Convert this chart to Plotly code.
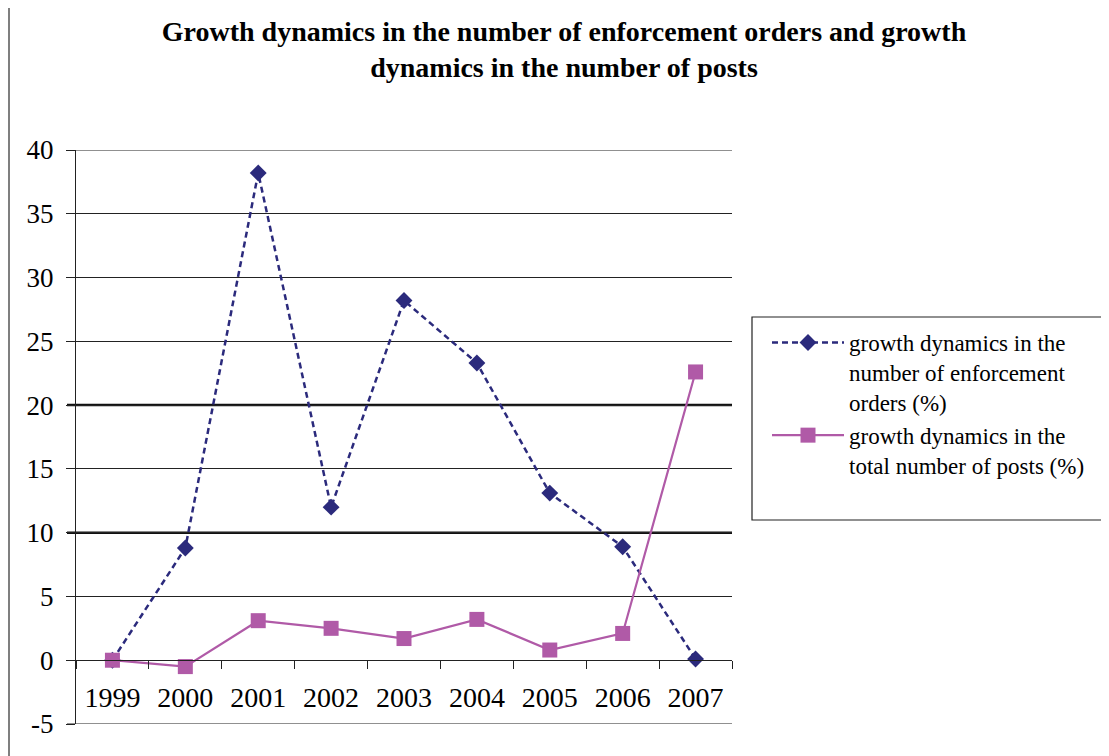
import plotly.graph_objects as go

years = ["1999", "2000", "2001", "2002", "2003", "2004", "2005", "2006", "2007"]
enforcement = [0.0, 8.8, 38.2, 12.0, 28.2, 23.3, 13.1, 8.9, 0.1]
posts = [0.0, -0.5, 3.1, 2.5, 1.7, 3.2, 0.8, 2.1, 22.6]
y_ticks = [-5, 0, 5, 10, 15, 20, 25, 30, 35, 40]
y_tick_text = ["-5", "0", "5", "10", "15", "20", "25", "30", "35", "40"]
thick_lines = [10, 20]
edge_lines = [-5, 40]

W, H = 1109, 756
OFF = 8  # page body margin
L, R, T, B = 76 - OFF, 732 - OFF, 150 - OFF, 724 - OFF
ymin, ymax = -5, 40

def px_x(sx):
    return (sx - OFF - L) / (R - L)

def px_y(sy):
    return (B - (sy - OFF)) / (B - T)

serif = "Liberation Serif, Times New Roman, serif"
navy = "#2B2A7C"
pink = "#B05AA7"

fig = go.Figure()
fig.add_trace(go.Scatter(
    x=years, y=enforcement, mode="lines+markers",
    name="growth dynamics in the<br>number of enforcement<br>orders (%)",
    line=dict(color=navy, width=2.5, dash="6px,4px"),
    marker=dict(symbol="diamond", size=13, color=navy),
))
fig.add_trace(go.Scatter(
    x=years, y=posts, mode="lines+markers",
    name="growth dynamics in the<br>total number of posts (%)",
    line=dict(color=pink, width=2.2),
    marker=dict(symbol="square", size=15, color=pink),
))

shapes = []
for v in thick_lines:
    shapes.append(dict(type="line", xref="paper", yref="y", x0=px_x(67), x1=1, y0=v, y1=v,
                       line=dict(color="#111111", width=2.5), layer="below"))
for v in edge_lines:
    shapes.append(dict(type="line", xref="paper", yref="y", x0=px_x(67), x1=1, y0=v, y1=v,
                       line=dict(color="#222222", width=1.2), layer="below"))
# legend box
shapes.append(dict(type="rect", xref="paper", yref="paper",
                   x0=px_x(752), x1=px_x(1112), y0=px_y(520), y1=px_y(317),
                   line=dict(color="#222222", width=1.2), fillcolor="rgba(0,0,0,0)"))
# left border line of figure
shapes.append(dict(type="line", xref="paper", yref="paper",
                   x0=px_x(9), x1=px_x(9), y0=px_y(5), y1=px_y(770),
                   line=dict(color="#555555", width=1.5)))

fig.update_layout(
    width=W, height=H,
    margin=dict(l=L, r=W - R, t=T, b=H - B, pad=0),
    paper_bgcolor="white", plot_bgcolor="white",
    font=dict(family=serif, size=26, color="black"),
    title=dict(
        text="<b>Growth dynamics in the number of enforcement orders and growth<br>dynamics in the number of posts</b>",
        x=(564 - OFF) / W, xanchor="center", xref="container",
        y=1 - 33 / H, yanchor="top", yref="container",
        font=dict(family=serif, size=28, color="black"),
    ),
    xaxis=dict(
        type="category", range=[-0.5, 8.5],
        anchor="free", position=(0 - ymin) / (ymax - ymin),
        showline=True, linecolor="#222222", linewidth=1.2,
        ticks="outside", tickson="boundaries", ticklen=8, tickcolor="#222222", tickwidth=1.2,
        showgrid=False, tickfont=dict(family=serif, size=28),
        ticklabelstandoff=12,
    ),
    yaxis=dict(
        range=[ymin, ymax], tickvals=y_ticks, ticktext=y_tick_text,
        showline=True, linecolor="#222222", linewidth=1.2,
        ticks="outside", ticklen=9, tickcolor="#222222", tickwidth=1.2,
        showgrid=True, gridcolor="#222222", gridwidth=1.2,
        zeroline=False, tickfont=dict(family=serif, size=27),
        ticklabelstandoff=7,
    ),
    showlegend=True,
    legend=dict(
        x=px_x(767), y=px_y(321), xanchor="left", yanchor="top",
        xref="paper", yref="paper",
        font=dict(family=serif, size=23, color="black"),
        bgcolor="rgba(0,0,0,0)", borderwidth=0, valign="top",
        itemwidth=72, tracegroupgap=14,
    ),
    shapes=shapes,
)

fig.write_html("out.html")
